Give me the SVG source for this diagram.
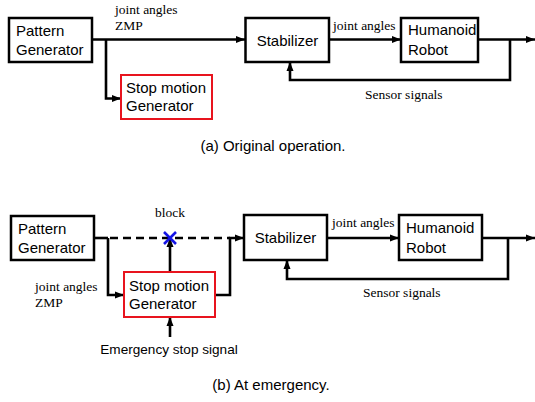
<svg xmlns="http://www.w3.org/2000/svg" width="535" height="402" viewBox="0 0 535 402">
  <style>
    .box { fill: #fff; stroke: #000; stroke-width: 2.5; }
    .stop { fill: #fff; stroke: #e8141e; stroke-width: 2; }
    .lbl { font-family: "Liberation Sans", Arial, sans-serif; font-size: 15px; fill: #000; }
    .ser { font-family: "Liberation Serif", "Times New Roman", serif; font-size: 13.5px; fill: #000; }
    .cap { font-family: "Liberation Sans", Arial, sans-serif; font-size: 15px; fill: #000; }
    .wire { fill: none; stroke: #000; stroke-width: 2.6; }
    .arr { marker-end: url(#head); }
    .dash { fill: none; stroke: #000; stroke-width: 2.6; stroke-dasharray: 8 5; }
  </style>
  <defs>
    <marker id="head" markerUnits="userSpaceOnUse" markerWidth="10" markerHeight="10" viewBox="0 0 10 10" refX="9" refY="5" orient="auto">
      <path d="M0,1.5 L9,5 L0,8.5 Z" fill="#000"/>
    </marker>
  </defs>

  <rect width="535" height="402" fill="#fff"/>

  <!-- (a) original operation -->
  <g id="connectors-a">
    <path class="wire arr" d="M92,39.5 H245"/>
    <path class="wire arr" d="M106,39.5 V98.5 H121"/>
    <path class="wire arr" d="M329,39.5 H401"/>
    <path class="wire arr" d="M478,39.5 H535"/>
    <path class="wire arr" d="M510,39.5 V80 H290 V62"/>
    <text class="ser" x="115" y="14">joint angles</text>
    <text class="ser" x="115" y="30">ZMP</text>
    <text class="ser" x="333" y="30">joint angles</text>
    <text class="ser" x="365" y="99">Sensor signals</text>
  </g>
  <g id="pattern-a">
    <rect class="box" x="9" y="18" width="83" height="44"/>
    <text class="lbl" x="16" y="36">Pattern</text>
    <text class="lbl" x="16" y="55">Generator</text>
  </g>
  <g id="stop-a">
    <rect class="stop" x="121" y="75" width="91" height="44"/>
    <text class="lbl" x="126" y="93">Stop motion</text>
    <text class="lbl" x="126" y="111">Generator</text>
  </g>
  <g id="stabilizer-a">
    <rect class="box" x="245.5" y="18" width="83.5" height="44"/>
    <text class="lbl" x="287.5" y="46" text-anchor="middle">Stabilizer</text>
  </g>
  <g id="robot-a">
    <rect class="box" x="401" y="18" width="77" height="44"/>
    <text class="lbl" x="408" y="35">Humanoid</text>
    <text class="lbl" x="408" y="55">Robot</text>
  </g>
  <text class="cap" x="273" y="151" text-anchor="middle">(a) Original operation.</text>

  <!-- (b) at emergency -->
  <g id="connectors-b">
    <path class="wire" d="M94,238 H108"/>
    <path class="dash" d="M110,238 H230"/>
    <path class="wire arr" d="M108,238 V295 H124"/>
    <path class="wire arr" d="M215,295 H230 V238 H244"/>
    <path class="wire arr" d="M170,272 V238"/>
    <path class="wire arr" d="M170,337 V317"/>
    <path class="wire arr" d="M327,238 H399"/>
    <path class="wire arr" d="M482,238 H535"/>
    <path class="wire arr" d="M508,238 V279 H287 V260"/>
    <text class="ser" x="170" y="217" text-anchor="middle">block</text>
    <text class="ser" x="35" y="291">joint angles</text>
    <text class="ser" x="35" y="307">ZMP</text>
    <text class="ser" x="332" y="227">joint angles</text>
    <text class="ser" x="363" y="297">Sensor signals</text>
    <text class="lbl" x="169" y="354" text-anchor="middle" style="font-size:13.6px">Emergency stop signal</text>
  </g>
  <g id="block-mark">
    <path d="M164,232 L176,244 M176,232 L164,244" stroke="#1414e6" stroke-width="2.6" fill="none"/>
  </g>
  <g id="pattern-b">
    <rect class="box" x="11" y="216" width="83" height="44"/>
    <text class="lbl" x="18" y="234">Pattern</text>
    <text class="lbl" x="18" y="253">Generator</text>
  </g>
  <g id="stop-b">
    <rect class="stop" x="124" y="272" width="91" height="45"/>
    <text class="lbl" x="129" y="291">Stop motion</text>
    <text class="lbl" x="129" y="309">Generator</text>
  </g>
  <g id="stabilizer-b">
    <rect class="box" x="244" y="215" width="83" height="45"/>
    <text class="lbl" x="285.5" y="243" text-anchor="middle">Stabilizer</text>
  </g>
  <g id="robot-b">
    <rect class="box" x="399" y="215" width="83" height="45"/>
    <text class="lbl" x="406" y="233">Humanoid</text>
    <text class="lbl" x="406" y="253">Robot</text>
  </g>
  <text class="cap" x="271" y="390" text-anchor="middle">(b) At emergency.</text>
</svg>
